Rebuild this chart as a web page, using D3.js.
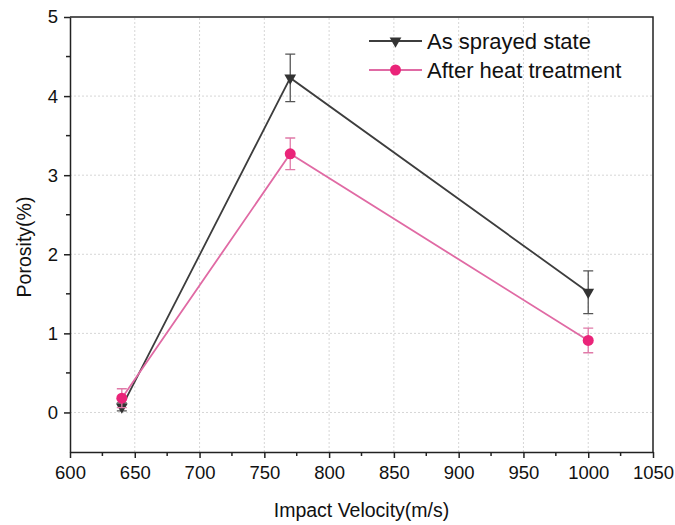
<!DOCTYPE html>
<html lang="en">
<head>
  <meta charset="UTF-8">
  <title>Porosity vs Impact Velocity</title>
  <script src="https://cdn.jsdelivr.net/npm/d3@7"></script>
  <style>
  body { margin: 0; background: #fff; }
  svg text { font-family: "Liberation Sans", Arial, sans-serif; fill: #111; }
  .grid line { stroke: #d6d6d6; stroke-dasharray: 2,2; }
  .axis path, .axis line { stroke: #222; stroke-width: 1.5; }
  .axis text { font-size: 18.5px; }
  </style>
</head>
<body>
<div id="chart"></div>
<script>
// data
const velocity = [640, 770, 1000];
const sprayed = [0.07, 4.23, 1.52];
const sprayedErr = [0.05, 0.30, 0.27];
const heated = [0.18, 3.27, 0.91];
const heatedErr = [0.12, 0.20, 0.155];
const seriesNames = ['As sprayed state', 'After heat treatment'];
const xTicks = [600, 650, 700, 750, 800, 850, 900, 950, 1000, 1050];
const yTicks = [0, 1, 2, 3, 4, 5];

const width = 675, height = 525;
const margin = {top: 17, right: 22, bottom: 73, left: 70};

const svg = d3.select('#chart').append('svg')
  .attr('width', width).attr('height', height);

const x = d3.scaleLinear().domain([600, 1050]).range([margin.left, width - margin.right]);
const y = d3.scaleLinear().domain([-0.5, 5]).range([height - margin.bottom, margin.top]);

// dashed grid
const grid = svg.append('g').attr('class', 'grid');
grid.selectAll('.gx').data(xTicks.slice(1, -1)).enter().append('line')
  .attr('x1', d => x(d)).attr('x2', d => x(d))
  .attr('y1', y(-0.5)).attr('y2', y(5));
grid.selectAll('.gy').data(yTicks.slice(0, -1)).enter().append('line')
  .attr('x1', x(600)).attr('x2', x(1050))
  .attr('y1', d => y(d)).attr('y2', d => y(d));

// frame (top & right)
svg.append('path')
  .attr('d', `M${x(600)},${y(5)}H${x(1050)}V${y(-0.5)}`)
  .attr('fill', 'none').attr('stroke', '#222').attr('stroke-width', 1.5);

// minor ticks
const xMinor = d3.range(625, 1050, 50);
const yMinor = d3.range(0.5, 5, 1);

const xAxis = svg.append('g').attr('class', 'axis')
  .attr('transform', `translate(0,${y(-0.5)})`)
  .call(d3.axisBottom(x).tickValues(xTicks).tickFormat(d3.format('d'))
    .tickSize(6).tickPadding(8).tickSizeOuter(0));
xAxis.selectAll('.minor').data(xMinor).enter().append('line')
  .attr('x1', d => x(d)).attr('x2', d => x(d)).attr('y1', 0).attr('y2', 4);

const yAxis = svg.append('g').attr('class', 'axis')
  .attr('transform', `translate(${x(600)},0)`)
  .call(d3.axisLeft(y).tickValues(yTicks).tickFormat(d3.format('d'))
    .tickSize(6).tickPadding(6).tickSizeOuter(0));
yAxis.selectAll('.minor').data(yMinor).enter().append('line')
  .attr('x1', 0).attr('x2', -4).attr('y1', d => y(d)).attr('y2', d => y(d));

// axis titles
svg.append('text')
  .attr('x', (x(600) + x(1050)) / 2).attr('y', 517)
  .attr('text-anchor', 'middle').attr('font-size', 19.5)
  .text('Impact Velocity(m/s)');
svg.append('text')
  .attr('transform', `translate(31,${247}) rotate(-90)`)
  .attr('text-anchor', 'middle').attr('font-size', 19.5)
  .text('Porosity(%)');

const series = [
  {name: seriesNames[0], values: sprayed, err: sprayedErr, line: '#3d3d3d', mark: '#333', errCol: '#555', shape: 'tri'},
  {name: seriesNames[1], values: heated, err: heatedErr, line: '#e06aa4', mark: '#ea2479', errCol: '#e07aa8', shape: 'dot'}
];

const tri = d3.symbol().type(d3.symbolTriangle).size(60);

function marker(g, s, cx, cy) {
  if (s.shape === 'tri') {
    g.append('path').attr('d', tri())
      .attr('transform', `translate(${cx},${cy}) rotate(180)`)
      .attr('fill', s.mark);
  } else {
    g.append('circle').attr('cx', cx).attr('cy', cy).attr('r', 5.5).attr('fill', s.mark);
  }
}

const line = d3.line().x(d => x(d[0])).y(d => y(d[1]));

series.forEach(s => {
  const g = svg.append('g');
  const pts = velocity.map((v, i) => [v, s.values[i], s.err[i]]);
  g.append('path').datum(pts).attr('d', line)
    .attr('fill', 'none').attr('stroke', s.line).attr('stroke-width', 1.8);
  pts.forEach(p => {
    const cx = x(p[0]), t = y(p[1] + p[2]), b = y(p[1] - p[2]);
    g.append('path')
      .attr('d', `M${cx},${t}V${b}M${cx - 5},${t}H${cx + 5}M${cx - 5},${b}H${cx + 5}`)
      .attr('stroke', s.errCol).attr('stroke-width', 1.3).attr('fill', 'none');
  });
  pts.forEach(p => marker(g, s, x(p[0]), y(p[1])));
});

// legend
const legend = svg.append('g').attr('transform', 'translate(369,41)');
series.forEach((s, i) => {
  const g = legend.append('g').attr('transform', `translate(0,${i * 29})`);
  g.append('line').attr('x1', 0).attr('x2', 53).attr('y1', 0).attr('y2', 0)
    .attr('stroke', s.line).attr('stroke-width', 1.8);
  marker(g, s, 26.5, 0);
  g.append('text').attr('x', 58).attr('y', 8).attr('font-size', 22).text(s.name);
});
</script>
</body>
</html>
